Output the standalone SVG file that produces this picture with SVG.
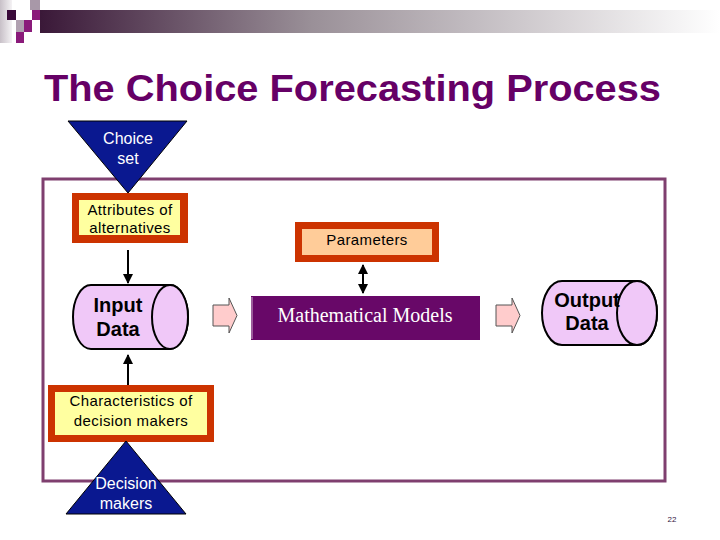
<svg xmlns="http://www.w3.org/2000/svg" width="720" height="540" viewBox="0 0 720 540">
<defs>
<linearGradient id="bar" x1="0" y1="0" x2="1" y2="0">
<stop offset="0" stop-color="#3a1838"/>
<stop offset="0.4" stop-color="#9a9098"/>
<stop offset="1" stop-color="#ffffff"/>
</linearGradient>
<linearGradient id="strip" x1="0" y1="0" x2="1" y2="0">
<stop offset="0" stop-color="#c8c0c8"/>
<stop offset="1" stop-color="#f4f2f4"/>
</linearGradient>
<marker id="ah" viewBox="0 0 10 10" refX="9" refY="5" markerWidth="5" markerHeight="5" orient="auto-start-reverse">
<path d="M0,0 L10,5 L0,10 z" fill="#000"/>
</marker>
<style>
.t{font-family:"Liberation Sans",Arial,sans-serif;text-anchor:middle}
.wt{fill:#fff;font-size:16px}
.bx{fill:#000;font-size:15px;letter-spacing:0.4px}
.bd{fill:#000;font-size:20px;font-weight:bold}
.outer{fill:#cc3300}
.cyl{fill:#f0c8f8;stroke:#000;stroke-width:2}
.tri{fill:#0a1890;stroke:#000;stroke-width:1}
.blk{fill:#ffcccc;stroke:#555;stroke-width:1}
.ln{stroke:#000;stroke-width:2;fill:none}
</style>
</defs>
<rect width="720" height="540" fill="#fff"/>
<g id="header">
<rect x="0" y="0" width="12" height="43" fill="url(#strip)"/>
<rect x="40" y="10" width="680" height="23" fill="url(#bar)"/>
<rect x="7" y="10" width="9" height="10" fill="#3a0a3a"/>
<rect x="30" y="0" width="10" height="10" fill="#a898a8"/>
<rect x="32" y="10" width="8" height="10" fill="#8a1a7a"/>
<rect x="16" y="20" width="8" height="12" fill="#b0a0b0"/>
<rect x="24" y="20" width="8" height="12" fill="#8a1a7a"/>
<rect x="16" y="32" width="8" height="11" fill="#8a1a7a"/>
</g>
<text x="44" y="101" textLength="617" lengthAdjust="spacingAndGlyphs" style="font-family:'Liberation Sans',Arial,sans-serif;font-size:36px;font-weight:bold;fill:#660066">The Choice Forecasting Process</text>
<rect id="frame" x="43" y="179" width="622" height="302" fill="none" stroke="#7f3f6f" stroke-width="3"/>
<g id="connectors">
<line x1="128" y1="250" x2="128" y2="283" class="ln" marker-end="url(#ah)"/>
<line x1="128" y1="386" x2="128" y2="355" class="ln" marker-end="url(#ah)"/>
<line x1="363" y1="265" x2="363" y2="293" class="ln" marker-start="url(#ah)" marker-end="url(#ah)"/>
<path class="blk" d="M213,305 L229,305 L229,298 L237,315.5 L229,333 L229,326 L213,326 z"/>
<path class="blk" d="M496,305 L512,305 L512,298 L520,315.5 L512,333 L512,326 L496,326 z"/>
</g>
<g id="choice-set">
<path class="tri" d="M68,121 L187,121 L128,193 z"/>
<text x="128" y="144" class="t wt">Choice</text>
<text x="128" y="164" class="t wt">set</text>
</g>
<g id="attributes">
<rect x="72" y="193" width="116" height="50" class="outer"/>
<rect x="79" y="200" width="101" height="35" fill="#ffffa0"/>
<text x="130" y="215" class="t bx">Attributes of</text>
<text x="130" y="233" class="t bx">alternatives</text>
</g>
<g id="input-data">
<path class="cyl" d="M91,285 L170,285 A18,32 0 0 1 170,349 L91,349 A18,32 0 0 1 91,285 z"/>
<ellipse cx="170" cy="317" rx="18" ry="32" class="cyl"/>
<text x="118" y="312" class="t bd">Input</text>
<text x="118" y="336" class="t bd">Data</text>
</g>
<g id="parameters">
<rect x="295" y="222" width="144" height="40" class="outer"/>
<rect x="302" y="229" width="130" height="26" fill="#ffcc99"/>
<text x="367" y="245" class="t bx">Parameters</text>
</g>
<g id="models">
<rect x="251" y="296" width="229" height="44" fill="#680868"/>
<line x1="252" y1="297" x2="252" y2="339" stroke="#d0b0d0" stroke-width="1"/>
<text x="365" y="322" style="font-family:'Liberation Serif','Times New Roman',serif;font-size:20px;fill:#fff;text-anchor:middle">Mathematical Models</text>
</g>
<g id="output-data">
<path class="cyl" d="M562,281 L637,281 A20,32 0 0 1 637,345 L562,345 A20,32 0 0 1 562,281 z"/>
<ellipse cx="637" cy="313" rx="20" ry="32" class="cyl"/>
<text x="587" y="307" class="t bd">Output</text>
<text x="587" y="330" class="t bd">Data</text>
</g>
<g id="characteristics">
<rect x="48" y="385" width="166" height="57" class="outer"/>
<rect x="55" y="392" width="152" height="43" fill="#ffffa0"/>
<text x="131" y="406" class="t bx">Characteristics of</text>
<text x="131" y="426" class="t bx">decision makers</text>
</g>
<g id="decision-makers">
<path class="tri" d="M126,441 L186,514 L66,514 z"/>
<text x="126" y="489" class="t wt">Decision</text>
<text x="126" y="509" class="t wt">makers</text>
</g>
<text x="672" y="522" class="t" style="font-size:8px;fill:#33163f">22</text>
</svg>
